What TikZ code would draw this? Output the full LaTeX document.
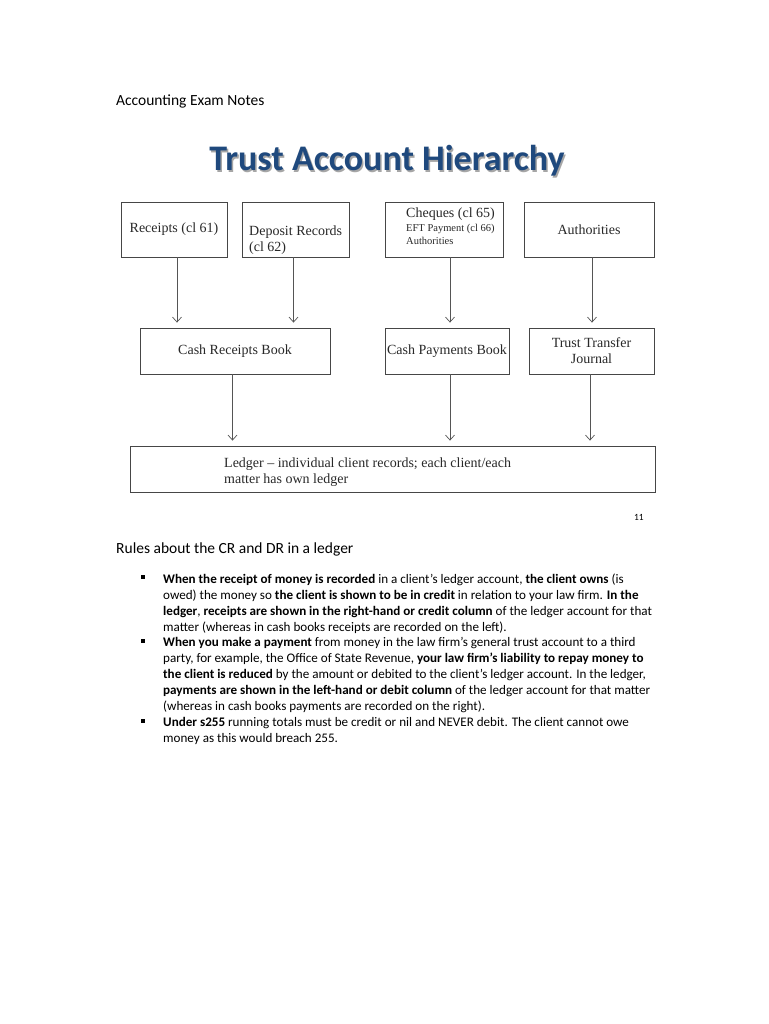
\documentclass[tikz,border=0pt]{standalone}
\usepackage{fontspec}
\setmainfont{Carlito}
\newfontfamily\dgfont[Ligatures=TeX]{Liberation Serif}
\usepackage{xcolor}
\usepackage{tikz}
\usetikzlibrary{positioning, arrows.meta, calc}

\definecolor{titleblue}{RGB}{31,73,125}
\definecolor{boxgrey}{RGB}{70,70,70}
\definecolor{arrgrey}{RGB}{85,85,85}
\definecolor{txtgrey}{RGB}{40,40,40}

\begin{document}
\begin{tikzpicture}[
    x=1pt, y=-1pt,
    flowbox/.style={rectangle, draw=boxgrey, line width=0.8pt, inner sep=0pt, align=center,
        text=txtgrey, font=\dgfont\fontsize{14}{16}\selectfont},
    boxtext/.style={anchor=north west, inner sep=0pt, align=left, text=txtgrey,
        font=\dgfont\fontsize{14}{16}\selectfont},
    flow/.style={draw=arrgrey, line width=0.7pt, -{Straight Barb[length=5pt, width=9pt]}, shorten >=5pt},
    bodytext/.style={anchor=north west, inner sep=0pt, align=left, font=\fontsize{13.1}{16}\selectfont},
    bulletsq/.style={rectangle, fill=black, minimum size=4.5pt, inner sep=0pt},
]
\useasboundingbox[fill=white] (0,0) rectangle (768,1024);

% page heading and title
\node[anchor=base west, inner sep=0pt, font=\fontsize{15.5}{18}\selectfont] (head) at (116,106) {Accounting Exam Notes};
\node[anchor=base, inner sep=0pt, text=black!35, font=\bfseries\fontsize{36}{40}\selectfont] (title-sh) at (388.5,172.5) {Trust Account Hierarchy};
\node[anchor=base, inner sep=0pt, text=titleblue, font=\bfseries\fontsize{36}{40}\selectfont] (title) at (387,171) {Trust Account Hierarchy};

% top row
\node[flowbox, minimum width=106, minimum height=55](rec) at (174,229.5){Receipts (cl 61)};
\node[flowbox, minimum width=107, minimum height=55](dep) at (295.5,229.5){};
\node[flowbox, minimum width=118, minimum height=55](chq) at (444,229.5){};
\node[flowbox, minimum width=130, minimum height=55](aut) at (589,229.5){Authorities};
\node[boxtext](dep-txt) at (249,225.5){Deposit Records\\(cl 62)};
\node[boxtext, font=\dgfont\fontsize{14}{13.5}\selectfont](chq-txt) at (406,207.8){Cheques (cl 65)\\
    \fontsize{10.5}{13.5}\selectfont EFT Payment (cl 66)\\
    \fontsize{10.5}{13.5}\selectfont Authorities};

% books
\node[flowbox, minimum width=190, minimum height=46](crb) at (235,351){Cash Receipts Book};
\node[flowbox, minimum width=124, minimum height=46](cpb) at (447,351){Cash Payments Book};
\node[flowbox, minimum width=125, minimum height=46](ttj) at (591.5,351){Trust Transfer\\Journal};

% ledger
\node[flowbox, minimum width=525, minimum height=46](led) at (392.5,469){};
\node[boxtext](led-txt) at (224,457.3){Ledger – individual client records; each client/each\\matter has own ledger};

\draw[flow] ([xshift=3pt]rec.south) -- ([xshift=3pt]rec.south |- crb.north);
\draw[flow] ([xshift=-2pt]dep.south) -- ([xshift=-2pt]dep.south |- crb.north);
\draw[flow] ([xshift=6pt]chq.south) -- ([xshift=6pt]chq.south |- cpb.north);
\draw[flow] ([xshift=3pt]aut.south) -- ([xshift=3pt]aut.south |- ttj.north);
\draw[flow] ([xshift=-2.5pt]crb.south) -- ([xshift=-2.5pt]crb.south |- led.north);
\draw[flow] ([xshift=3pt]cpb.south) -- ([xshift=3pt]cpb.south |- led.north);
\draw[flow] ([xshift=-1.5pt]ttj.south) -- ([xshift=-1.5pt]ttj.south |- led.north);

% page number and rules
\node[anchor=base east, inner sep=0pt, font=\fontsize{9.5}{11}\selectfont] (pagenum) at (644,520) {11};
\node[anchor=base west, inner sep=0pt, font=\fontsize{15.5}{18}\selectfont] (rules) at (116,553) {Rules about the CR and DR in a ledger};

\node[bulletsq] (b1) at (143,577) {};
\node[bulletsq] (b2) at (143,641) {};
\node[bulletsq] (b3) at (143,721) {};

\node[bodytext] (rule1) at (163,573.5) {%
    \textbf{When the receipt of money is recorded} in a client’s ledger account, \textbf{the client owns} (is\\
    owed) the money so \textbf{the client is shown to be in credit} in relation to your law firm. \textbf{In the}\\
    \textbf{ledger}, \textbf{receipts are shown in the right-hand or credit column} of the ledger account for that\\
    matter (whereas in cash books receipts are recorded on the left).};
\node[bodytext] (rule2) at (163,637.5) {%
    \textbf{When you make a payment} from money in the law firm’s general trust account to a third\\
    party, for example, the Office of State Revenue, \textbf{your law firm’s liability to repay money to}\\
    \textbf{the client is reduced} by the amount or debited to the client’s ledger account. In the ledger,\\
    \textbf{payments are shown in the left-hand or debit column} of the ledger account for that matter\\
    (whereas in cash books payments are recorded on the right).};
\node[bodytext] (rule3) at (163,717.5) {%
    \textbf{Under s255} running totals must be credit or nil and NEVER debit. The client cannot owe\\
    money as this would breach 255.};
\end{tikzpicture}
\end{document}
